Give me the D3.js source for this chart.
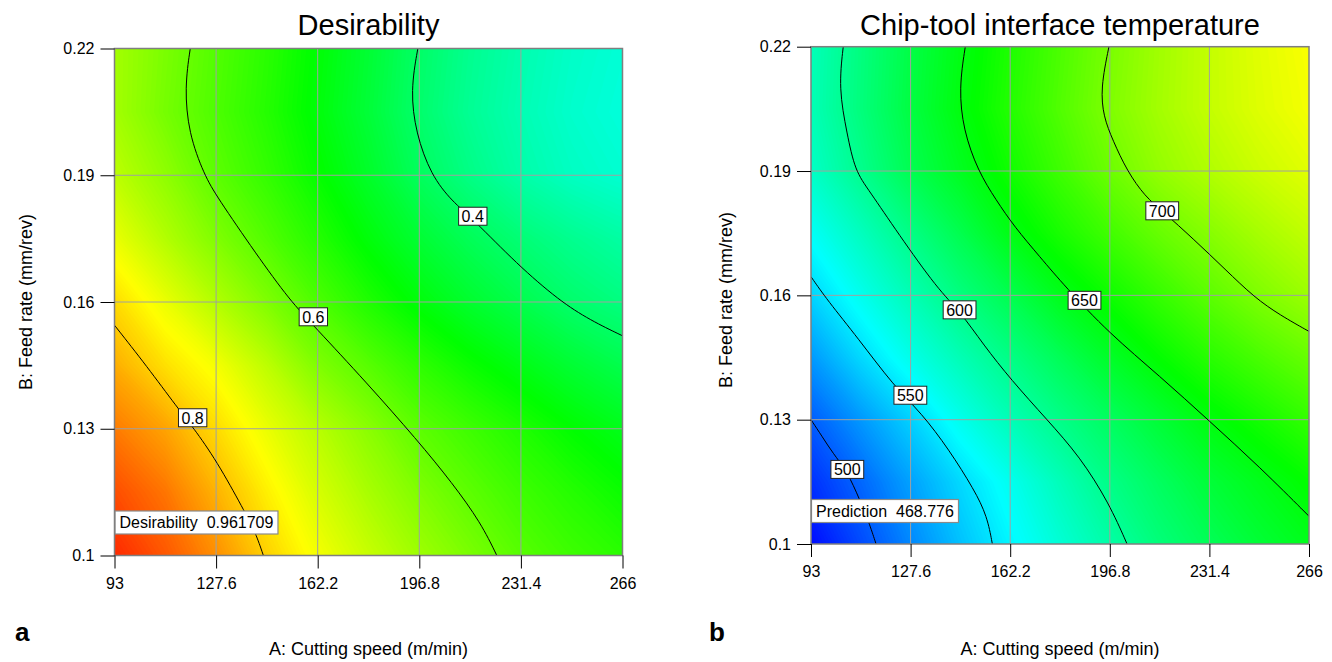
<!DOCTYPE html>
<html>
<head>
<meta charset="utf-8">
<script src="https://cdn.jsdelivr.net/npm/d3@7"></script>
<style>
  body { margin: 0; background: #fff; }
  text { font-family: "Liberation Sans", Arial, sans-serif; }
</style>
</head>
<body>
<svg id="chart" width="1332" height="662"></svg>
<script>
const cuttingSpeedGrid = [93, 110.3, 127.6, 144.9, 162.2, 179.5, 196.8, 214.1, 231.4, 248.7, 266];
const feedRateGrid = [0.1, 0.115, 0.13, 0.145, 0.16, 0.175, 0.19, 0.205, 0.22];

const cuttingSpeedTicks = [93, 127.6, 162.2, 196.8, 231.4, 266];
const feedRateTicks = [0.1, 0.13, 0.16, 0.19, 0.22];

// one row per feed rate (bottom to top), one column per cutting speed
const desirabilityGrid = [
  [0.96, 0.915, 0.86, 0.795, 0.74, 0.695, 0.655, 0.62, 0.585, 0.56, 0.54],
  [0.925, 0.885, 0.825, 0.765, 0.71, 0.665, 0.625, 0.59, 0.56, 0.535, 0.51],
  [0.88, 0.84, 0.785, 0.73, 0.68, 0.635, 0.59, 0.56, 0.53, 0.5, 0.475],
  [0.83, 0.78, 0.74, 0.685, 0.625, 0.585, 0.545, 0.51, 0.48, 0.45, 0.425],
  [0.785, 0.73, 0.675, 0.625, 0.575, 0.53, 0.49, 0.455, 0.425, 0.395, 0.375],
  [0.73, 0.675, 0.625, 0.58, 0.535, 0.49, 0.45, 0.415, 0.385, 0.36, 0.34],
  [0.685, 0.64, 0.59, 0.55, 0.505, 0.46, 0.41, 0.37, 0.335, 0.31, 0.295],
  [0.66, 0.615, 0.575, 0.535, 0.49, 0.445, 0.395, 0.355, 0.325, 0.3, 0.285],
  [0.66, 0.62, 0.58, 0.54, 0.495, 0.45, 0.4, 0.36, 0.33, 0.305, 0.29],
];

const temperatureGrid = [
  [469, 492.5, 515.5, 537, 557, 575.5, 593, 610, 623, 635, 645],
  [483, 503.5, 525, 546, 566, 586, 605, 620, 634, 645, 656],
  [500, 521.5, 543, 567, 587, 604.5, 620, 635, 650, 662, 674],
  [522, 546, 568, 587.5, 605.5, 623, 640, 656, 670, 682, 693],
  [544, 566.5, 587.5, 608, 626, 645, 660, 675, 689, 702, 713],
  [563, 584, 605.5, 626, 647.5, 664, 679, 693, 705, 717, 727],
  [581, 602.5, 625, 643, 661, 678, 695, 710, 721, 731, 739],
  [587, 609, 630.5, 650, 668, 685, 702, 716, 728, 738, 746],
  [586, 608, 629, 648, 666, 683, 700, 715, 728, 739, 748],
];

// contour lines: [cutting speed, feed rate]
const desirabilityContours = [
  { level: "0.8", label: [119.6, 0.1326], points: [[93, 0.1545], [104, 0.1448], [114.5, 0.1349], [119.6, 0.1305], [127.9, 0.1223], [137, 0.1108], [141, 0.1055], [143.7, 0.1]] },
  { level: "0.6", label: [160.7, 0.1565], points: [[118.8, 0.22], [116.9, 0.2109], [118.2, 0.2], [123.6, 0.19], [127.9, 0.1849], [141.2, 0.1714], [152.8, 0.1603], [160.7, 0.1545], [179, 0.1408], [196, 0.1274], [208.1, 0.1171], [217.8, 0.1077], [223.2, 0.1]] },
  { level: "0.4", label: [215, 0.1803], points: [[196.3, 0.22], [193.8, 0.2101], [195.6, 0.2], [200.8, 0.19], [208, 0.1838], [215, 0.1797], [230, 0.169], [244.5, 0.1603], [255, 0.1557], [266, 0.152]] },
];

const temperatureContours = [
  { level: "500", label: [105.6, 0.118], points: [[93, 0.13], [97, 0.1258], [100.5, 0.122], [105.6, 0.1175], [109.9, 0.1107], [113, 0.1055], [115.6, 0.1]] },
  { level: "550", label: [127.5, 0.1359], points: [[93, 0.1645], [98.6, 0.1589], [109.3, 0.1497], [121.9, 0.138], [131.4, 0.1316], [140.9, 0.1228], [149.7, 0.1131], [154.2, 0.1067], [156, 0.1]] },
  { level: "600", label: [144.6, 0.1565], points: [[104.2, 0.22], [102.6, 0.21], [105.5, 0.1991], [108.3, 0.19], [113.1, 0.1854], [123.2, 0.175], [137.1, 0.1614], [144.6, 0.1563], [153, 0.148], [162.4, 0.1397], [175, 0.13], [186.4, 0.1211], [196.5, 0.1099], [202.8, 0.1]] },
  { level: "650", label: [188, 0.1588], points: [[146.6, 0.22], [144.4, 0.21], [145.9, 0.1999], [151, 0.19], [157.3, 0.183], [163.6, 0.1766], [172.5, 0.1693], [181.3, 0.1621], [196.5, 0.1509], [214.2, 0.1405], [231.5, 0.1296], [249, 0.1185], [266, 0.1067]] },
  { level: "700", label: [215, 0.1804], points: [[196.5, 0.22], [193.6, 0.21], [194.6, 0.2031], [197.8, 0.1975], [202.8, 0.19], [209.1, 0.1838], [215, 0.1804], [226, 0.1735], [237, 0.1662], [247, 0.1595], [256, 0.1552], [266, 0.1513]] },
];

// Design-Expert style rainbow: blue -> cyan -> green -> yellow -> red
const rainbow = ["#0000ff", "#00ffff", "#00ff00", "#ffff00", "#ff0000"];

const svg = d3.select("#chart");

/**
 * Draws one contour panel: coloured surface, grid, contour lines, axes and texts.
 */
function drawPanel({ id, left, top, width, height, grid, contours, colorDomain, step,
                     title, flagText, panelLetter, letterX, yTitleX, yTitleY }) {
  const xScale = d3.scaleLinear().domain([93, 266]).range([left, left + width]);
  const yScale = d3.scaleLinear().domain([0.1, 0.22]).range([top + height, top]);
  const lo = colorDomain[0], hi = colorDomain[1];
  const color = d3.scaleLinear()
    .domain(d3.range(5).map((i) => lo + (i * (hi - lo)) / 4))
    .range(rainbow)
    .clamp(true);

  svg.append("clipPath").attr("id", "clip-" + id)
    .append("rect")
    .attr("x", left).attr("y", top).attr("width", width).attr("height", height);

  const plot = svg.append("g").attr("clip-path", `url(#clip-${id})`);

  // surface: filled bands from d3.contours over the read grid
  const nx = cuttingSpeedGrid.length;
  const ny = feedRateGrid.length;
  const dxs = cuttingSpeedGrid[1] - cuttingSpeedGrid[0];
  const dys = feedRateGrid[1] - feedRateGrid[0];
  const values = grid.flat();
  const gridToScreen = d3.geoTransform({
    point(px, py) {
      this.stream.point(
        xScale(cuttingSpeedGrid[0] + (px - 0.5) * dxs),
        yScale(feedRateGrid[0] + (py - 0.5) * dys)
      );
    },
  });
  const geoPath = d3.geoPath(gridToScreen);
  const vmin = d3.min(values), vmax = d3.max(values);
  const bands = d3.contours().size([nx, ny]).thresholds(d3.range(vmin, vmax, step))(values);

  plot.append("rect")
    .attr("x", left).attr("y", top).attr("width", width).attr("height", height)
    .attr("fill", color(vmin));

  plot.append("g")
    .selectAll("path")
    .data(bands)
    .join("path")
    .attr("d", geoPath)
    .attr("fill", (d) => color(d.value + step / 2));

  // grid lines
  plot.append("g")
    .selectAll("line")
    .data(cuttingSpeedTicks.slice(1, -1))
    .join("line")
    .attr("x1", (d) => xScale(d)).attr("x2", (d) => xScale(d))
    .attr("y1", top).attr("y2", top + height)
    .attr("stroke", "#a0a0a0").attr("stroke-width", 1);
  plot.append("g")
    .selectAll("line")
    .data(feedRateTicks.slice(1, -1))
    .join("line")
    .attr("x1", left).attr("x2", left + width)
    .attr("y1", (d) => yScale(d)).attr("y2", (d) => yScale(d))
    .attr("stroke", "#a0a0a0").attr("stroke-width", 1);

  // contour lines
  const line = d3.line()
    .curve(d3.curveBasis)
    .x((d) => xScale(d[0]))
    .y((d) => yScale(d[1]));

  plot.append("g")
    .selectAll("path")
    .data(contours)
    .join("path")
    .attr("d", (d) => line(d.points))
    .attr("fill", "none")
    .attr("stroke", "#000")
    .attr("stroke-width", 1);

  // contour labels
  const labels = plot.append("g")
    .selectAll("g")
    .data(contours)
    .join("g")
    .attr("transform", (d) => `translate(${xScale(d.label[0])},${yScale(d.label[1])})`);
  labels.append("rect");
  labels.append("text")
    .attr("text-anchor", "middle")
    .attr("dy", "0.36em")
    .attr("font-size", 16)
    .text((d) => d.level);
  labels.each(function () {
    const g = d3.select(this);
    const bb = g.select("text").node().getBBox();
    g.select("rect")
      .attr("x", bb.x - 3).attr("y", -9)
      .attr("width", bb.width + 6).attr("height", 18)
      .attr("fill", "#fff").attr("stroke", "#222").attr("stroke-width", 1);
  });

  // flag at the optimum
  const flag = plot.append("g").attr("transform", `translate(${left},${top + height - 33})`);
  const flagRect = flag.append("rect");
  const flagLabel = flag.append("text")
    .attr("x", 5).attr("dy", "0.36em")
    .attr("font-size", 16)
    .attr("xml:space", "preserve")
    .text(flagText);
  const fb = flagLabel.node().getBBox();
  flagRect
    .attr("x", 0.5).attr("y", -11.5)
    .attr("width", fb.width + 9).attr("height", 23)
    .attr("fill", "#fff").attr("stroke", "#8a8a8a").attr("stroke-width", 1.2);

  // frame
  svg.append("rect")
    .attr("x", left).attr("y", top).attr("width", width).attr("height", height)
    .attr("fill", "none").attr("stroke", "#7f7f7f").attr("stroke-width", 1.5);

  // axes
  const yAxis = d3.axisLeft(yScale)
    .tickValues(feedRateTicks)
    .tickSize(14)
    .tickPadding(6)
    .tickFormat((d) => String(d));
  const xAxis = d3.axisBottom(xScale)
    .tickValues(cuttingSpeedTicks)
    .tickSize(13)
    .tickPadding(9)
    .tickFormat((d) => String(d));

  const gy = svg.append("g").attr("transform", `translate(${left},0)`).call(yAxis);
  const gx = svg.append("g").attr("transform", `translate(0,${top + height})`).call(xAxis);
  [gx, gy].forEach((g) => {
    g.select(".domain").remove();
    g.selectAll(".tick line").attr("stroke", "#000");
    g.selectAll(".tick text")
      .attr("fill", "#000")
      .attr("font-size", 16)
      .attr("font-family", '"Liberation Sans", Arial, sans-serif');
  });

  // titles
  svg.append("text")
    .attr("x", left + width / 2).attr("y", 35)
    .attr("text-anchor", "middle")
    .attr("font-size", 29)
    .text(title);

  svg.append("text")
    .attr("transform", `translate(${yTitleX},${yTitleY}) rotate(-90)`)
    .attr("text-anchor", "middle")
    .attr("font-size", 18)
    .text("B: Feed rate (mm/rev)");

  svg.append("text")
    .attr("x", left + width / 2).attr("y", 655)
    .attr("text-anchor", "middle")
    .attr("font-size", 18)
    .text("A: Cutting speed (m/min)");

  svg.append("text")
    .attr("x", letterX).attr("y", 641)
    .attr("font-family", '"Liberation Serif", "Times New Roman", serif')
    .attr("font-weight", "bold")
    .attr("font-size", 26)
    .text(panelLetter);
}

drawPanel({
  id: "a",
  left: 114.5, top: 48.5, width: 508, height: 507,
  grid: desirabilityGrid,
  contours: desirabilityContours,
  colorDomain: [0, 1],
  step: 0.004,
  title: "Desirability",
  flagText: "Desirability  0.961709",
  panelLetter: "a",
  letterX: 15,
  yTitleX: 32, yTitleY: 302,
});

drawPanel({
  id: "b",
  left: 811, top: 46.7, width: 498, height: 497.3,
  grid: temperatureGrid,
  contours: temperatureContours,
  colorDomain: [465, 845],
  step: 1.5,
  title: "Chip-tool interface temperature",
  flagText: "Prediction  468.776",
  panelLetter: "b",
  letterX: 709,
  yTitleX: 732, yTitleY: 300,
});
</script>
</body>
</html>
